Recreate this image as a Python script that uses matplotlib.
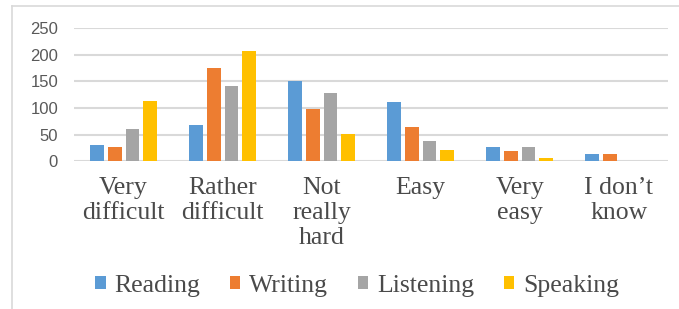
import matplotlib.pyplot as plt
import numpy as np
from matplotlib.lines import Line2D

categories = ["Very\ndifficult", "Rather\ndifficult", "Not\nreally\nhard", "Easy", "Very\neasy", "I don\u2019t\nknow"]
series = ["Reading", "Writing", "Listening", "Speaking"]
reading = [30, 68, 150, 111, 27, 13]
writing = [27, 175, 98, 64, 19, 13]
listening = [61, 142, 129, 39, 27, 0]
speaking = [114, 207, 51, 21, 6, 0]
colors = ["#5B9BD5", "#ED7D31", "#A5A5A5", "#FFC000"]

fig = plt.figure(figsize=(6.79, 3.09), dpi=100)
ax = fig.add_axes([0.109, 0.478, 0.875, 0.431])

x = np.arange(len(categories))
bw = 0.14
pitch = 0.18
for i, (vals, c, name) in enumerate(zip([reading, writing, listening, speaking], colors, series)):
    ax.bar(x + (i - 1.5) * pitch, vals, width=bw, color=c, label=name, zorder=3)

ax.set_xlim(-0.5, len(categories) - 0.5)
ax.set_ylim(0, 250)
ax.set_yticks(range(0, 251, 50))
ax.yaxis.grid(True, color="#D9D9D9", linewidth=1.5, zorder=0)
for s in ax.spines.values():
    s.set_visible(False)
ax.tick_params(axis="y", length=0, pad=11.5, labelsize=12, labelcolor="#595959")
ax.tick_params(axis="x", length=0, pad=11)
ax.set_xticks(x)
ax.set_xticklabels(categories, fontfamily="Liberation Serif", fontsize=18.5,
                   color="#4a4a4a", linespacing=1.2)
for lbl in ax.get_yticklabels():
    lbl.set_fontfamily("Liberation Sans")

handles, labels = ax.get_legend_handles_labels()
fig.legend(handles, labels, loc="center", bbox_to_anchor=(0.526, 0.074), ncol=4, frameon=False,
           prop={"family": "Liberation Serif", "size": 18.5},
           labelcolor="#4a4a4a", handlelength=0.4, handleheight=0.4,
           handletextpad=0.35, columnspacing=1.15)

# light border of the chart area
fig.add_artist(Line2D([12 / 679, 12 / 679], [0, 1 - 6 / 309], transform=fig.transFigure,
                      color="#D9D9D9", linewidth=1.2))
fig.add_artist(Line2D([12 / 679, 1], [1 - 6 / 309, 1 - 6 / 309], transform=fig.transFigure,
                      color="#D9D9D9", linewidth=1.2))

fig.savefig("out.png", dpi=100)
